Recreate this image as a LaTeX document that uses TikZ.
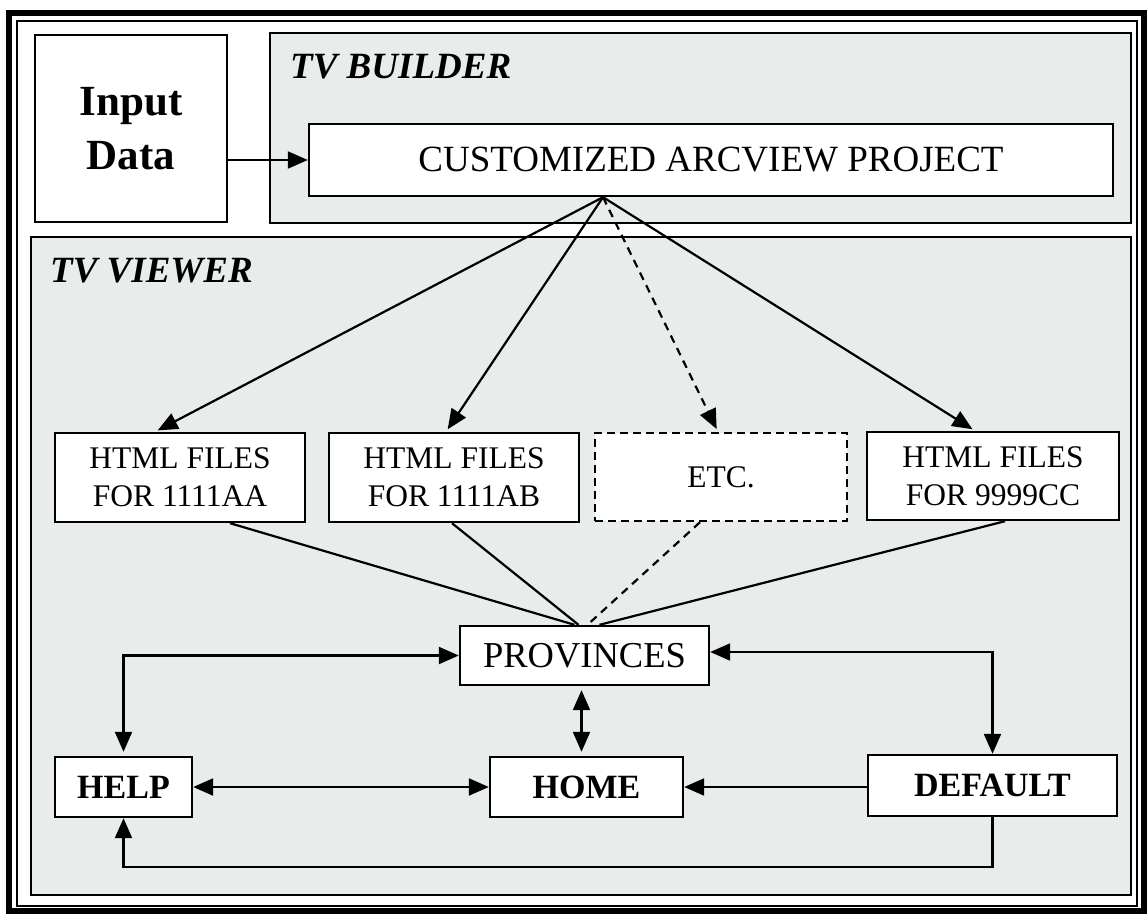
\documentclass[tikz,border=0pt]{standalone}
\usepackage{fontspec}
\setmainfont{Liberation Serif}
\usetikzlibrary{arrows.meta}
\definecolor{panelgray}{RGB}{232,236,234}
\begin{document}
\begin{tikzpicture}[x=1pt,y=-1pt,
  box/.style={draw=black, line width=2.4pt, fill=white, inner sep=0pt, align=center},
  panel/.style={draw=black, line width=2.2pt, fill=panelgray, inner sep=0pt},
  conn/.style={line width=2.2pt},
  tri/.tip={Triangle[length=20pt,width=17pt]},
  tip/.style={-tri},
  dtip/.style={tri-tri},
  filetext/.style={font=\fontsize{31.5}{38}\selectfont},
  boldtext/.style={font=\fontsize{34}{40}\selectfont\bfseries},
  paneltitle/.style={font=\fontsize{37}{42}\selectfont\bfseries\itshape, anchor=base west, inner sep=0pt},
  dash box/.style={dash pattern=on 8pt off 5pt}
]
\useasboundingbox (0,0) rectangle (1148,915);
\fill[white] (0,0) rectangle (1148,915);
% outer frame
\draw[line width=6pt] (9,13) rectangle (1144,911);
\draw[line width=1.5pt] (17,21) rectangle (1137,906);
% panels
\node[panel, minimum width=861pt, minimum height=190pt] (builder) at (700.5,128) {};
\node[panel, minimum width=1100pt, minimum height=658pt] (viewer) at (581,566) {};
\node[paneltitle] (buildertitle) at (290,79) {TV BUILDER};
\node[paneltitle] (viewertitle) at (50,282) {TV VIEWER};
% nodes
\node[box, minimum width=192pt, minimum height=187pt, font=\fontsize{43}{54}\selectfont\bfseries] (input) at (131,128.5) {Input\\Data};
\node[box, minimum width=804pt, minimum height=72pt, font=\fontsize{37}{42}\selectfont] (cust) at (711,160) {CUSTOMIZED ARCVIEW PROJECT};
\node[box, filetext, minimum width=250pt, minimum height=89pt] (html1) at (180,477.5) {HTML FILES\\FOR 1111AA};
\node[box, filetext, minimum width=250pt, minimum height=89pt] (html2) at (454,477.5) {HTML FILES\\FOR 1111AB};
\node[box, filetext, dash box, minimum width=252pt, minimum height=88pt] (etc) at (721,477) {ETC.};
\node[box, filetext, minimum width=252pt, minimum height=88pt] (html4) at (993,476) {HTML FILES\\FOR 9999CC};
\node[box, minimum width=249pt, minimum height=59pt, font=\fontsize{36.5}{42}\selectfont] (prov) at (584.5,655.5) {PROVINCES};
\node[box, boldtext, minimum width=137pt, minimum height=60pt] (help) at (123.5,787) {HELP};
\node[box, boldtext, minimum width=193pt, minimum height=60pt] (home) at (586.5,787) {HOME};
\node[box, boldtext, minimum width=249pt, minimum height=61pt] (default) at (992.5,785.5) {DEFAULT};
% connectors
\draw[conn,tip] (input.east |- cust.west) -- (cust.west);
\draw[conn,tip,shorten >=3pt] ([xshift=-108pt]cust.south) -- ([xshift=-25pt]html1.north);
\draw[conn,tip,shorten >=3pt] ([xshift=-108pt]cust.south) -- ([xshift=-8pt]html2.north);
\draw[conn,tip,shorten >=3pt,dash pattern=on 8pt off 6pt] ([xshift=-108pt]cust.south) -- ([xshift=-3pt]etc.north);
\draw[conn,tip,shorten >=3pt] ([xshift=-108pt]cust.south) -- ([xshift=-18pt]html4.north);
\draw[conn] ([xshift=50pt]html1.south) -- ([xshift=-10pt]prov.north);
\draw[conn] ([xshift=-2pt]html2.south) -- ([xshift=-6pt]prov.north);
\draw[conn,dash pattern=on 8pt off 6pt] ([xshift=-21pt]etc.south) -- ([xshift=3pt]prov.north);
\draw[conn] ([xshift=12pt]html4.south) -- ([xshift=15pt]prov.north);
\draw[conn,dtip,shorten >=4pt] (prov.west) -| (help.north);
\draw[conn,dtip] ([yshift=3.5pt]prov.east) -| (default.north);
\draw[conn,dtip,shorten >=4pt,shorten <=4pt] ([xshift=-5pt]home.north |- prov.south) -- ([xshift=-5pt]home.north);
\draw[conn,dtip] (help.east) -- (home.west);
\draw[conn,tip] (default.west |- home.east) -- (home.east);
\draw[conn,tip] (default.south) -- ++(0,50) -| (help.south);
\end{tikzpicture}
\end{document}
